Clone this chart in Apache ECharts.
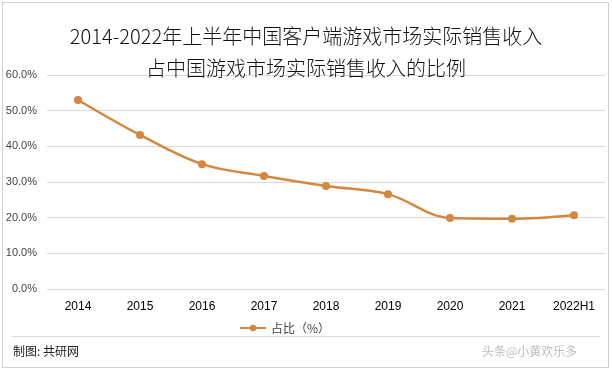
<!DOCTYPE html>
<html><head><meta charset="utf-8">
<script src="https://cdn.jsdelivr.net/npm/echarts@6/dist/echarts.min.js"></script>
<style>html,body{margin:0;padding:0;background:#fff}#c{width:612px;height:371px}</style>
</head><body><div id="c"></div>
<script>
const categories = ['2014','2015','2016','2017','2018','2019','2020','2021','2022H1'];
const shareValues = [53.0, 43.2, 35.0, 31.7, 28.9, 26.6, 19.9, 19.7, 20.7];
const seriesName = '占比（%）';
const titleText = '2014-2022年上半年中国客户端游戏市场实际销售收入\n占中国游戏市场实际销售收入的比例';

const chart = echarts.init(document.getElementById('c'), null, {renderer:'canvas'});
chart.setOption({
  backgroundColor:'#fff',
  animation:false,
  title:{
    text:titleText, left:'center', top:15,
    textStyle:{fontFamily:'Noto Sans CJK SC', fontSize:20, fontWeight:300, color:'#111', lineHeight:32}
  },
  grid:{left:47, right:7, top:75, bottom:82, containLabel:false},
  legend:{
    data:[seriesName], top:317, left:234, itemWidth:26, itemHeight:8, itemGap:4,
    textStyle:{fontFamily:'Noto Sans CJK SC', fontSize:12, color:'#444'}
  },
  xAxis:{
    type:'category', data:categories, boundaryGap:true,
    axisLine:{show:false}, axisTick:{show:false},
    axisLabel:{color:'#000', fontSize:12, fontFamily:'Liberation Sans', margin:12}
  },
  yAxis:{
    type:'value', min:0, max:60, interval:10,
    axisLabel:{formatter:v=>v.toFixed(1)+'%', color:'#444', fontSize:11, fontFamily:'Liberation Sans', margin:10},
    splitLine:{lineStyle:{color:'#d9d9d9', width:1}},
    axisLine:{show:false}, axisTick:{show:false}
  },
  series:[{
    name:seriesName, type:'line', data:shareValues, smooth:0.35,
    symbol:'circle', symbolSize:8,
    lineStyle:{color:'#D5873F', width:2.5},
    itemStyle:{color:'#D5873F'}
  }],
  graphic:[
    {type:'rect', shape:{x:2.5, y:2.5, width:606, height:365}, style:{fill:'none', stroke:'#d0d0d0', lineWidth:1}, silent:true},
    {type:'line', shape:{x1:12, y1:336.5, x2:600, y2:336.5}, style:{stroke:'#d9d9d9', lineWidth:1}},
    {type:'text', left:13, top:345, style:{text:'制图: 共研网', fontFamily:'Noto Sans CJK SC', fontSize:12, fill:'#222'}},
    {type:'text', left:482, top:345, style:{text:'头条@小黄欢乐多', fontFamily:'Noto Sans CJK SC', fontSize:12, fill:'#bdbdbd'}}
  ]
});
</script></body></html>
